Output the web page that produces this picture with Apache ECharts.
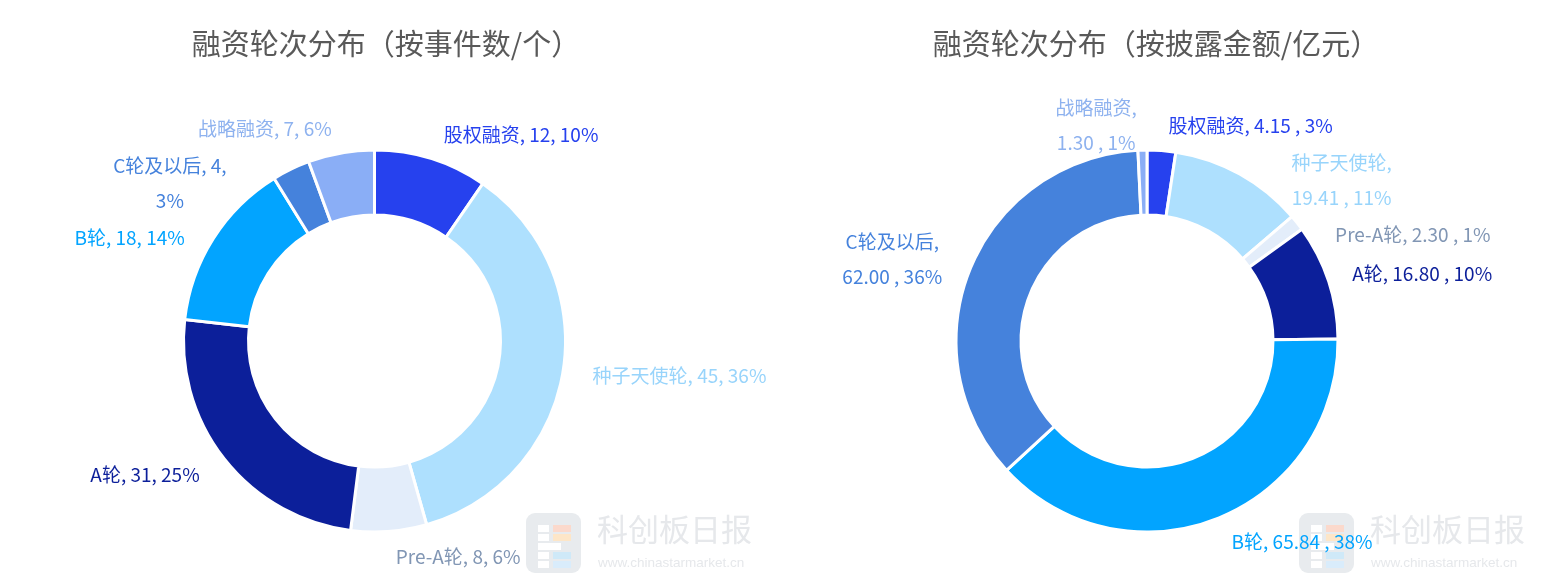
<!DOCTYPE html>
<html lang="zh" style="height: 100%">

<head>
  <meta charset="utf-8">
</head>

<body style="height: 100%; margin: 0; background: #fff">
  <div id="container" style="height: 100%"></div>
  <script type="text/javascript" src="https://fastly.jsdelivr.net/npm/echarts@6.0.0/dist/echarts.min.js"></script>
  <script type="text/javascript">
    // 融资轮次
    const roundNames = ['股权融资', '种子天使轮', 'Pre-A轮', 'A轮', 'B轮', 'C轮及以后', '战略融资'];
    // 按事件数（个）
    const eventCounts = [12, 45, 8, 31, 18, 4, 7];
    // 按披露金额（亿元）
    const disclosedAmounts = [4.15, 19.41, 2.30, 16.80, 65.84, 62.00, 1.30];

    const titles = ['融资轮次分布（按事件数/个）', '融资轮次分布（按披露金额/亿元）'];

    const sliceColors = ['#2641ee', '#aee0fe', '#e3edfa', '#0c1f9a', '#02a4ff', '#4582dc', '#8aaef6'];
    const labelColors = ['#2641ee', '#98d4fb', '#8196b4', '#0c1f9a', '#02a4ff', '#4582dc', '#8eb2ef'];

    var dom = document.getElementById('container');
    var myChart = echarts.init(dom, null, { renderer: 'canvas' });

    const font = "'Noto Sans CJK SC', 'Noto Sans', sans-serif";

    function pieData(values) {
      return roundNames.map((name, i) => ({
        name: name,
        value: values[i],
        itemStyle: { color: sliceColors[i] },
        label: { color: labelColors[i] }
      }));
    }

    // labels that break onto a second line in the original, and after which part
    const wrapLeft = { 'C轮及以后': 2 };
    const wrapRight = { '战略融资': 1, '种子天使轮': 1, 'C轮及以后': 1 };

    function joinParts(parts, breakAt) {
      if (!breakAt) return parts.join(', ');
      // two lines, centred on each other
      return '{c|' + parts.slice(0, breakAt).join(', ') + ',}\n{c|' + parts.slice(breakAt).join(', ') + '}';
    }

    function pieSeries(values, cx, fmt) {
      return {
        type: 'pie',
        center: [cx, 341],
        radius: [126, 191],
        startAngle: 90,
        clockwise: true,
        percentPrecision: 0,
        avoidLabelOverlap: true,
        itemStyle: { borderColor: '#fff', borderWidth: 3 },
        label: {
          show: true,
          fontFamily: font,
          fontSize: 19,
          lineHeight: 35,
          formatter: fmt,
          rich: {
            c: { align: 'center', fontFamily: font, fontSize: 19, lineHeight: 35 }
          }
        },
        labelLine: { show: false, length: 25, length2: 0 },
        emphasis: { scale: false },
        data: pieData(values)
      };
    }

    // watermark: logo + site name
    function watermark(x0) {
      const y0 = 513;
      const bars = [
        [12, 12, 11, 7, '#fff'], [12, 21, 11, 7, '#fff'], [12, 30, 23, 7, '#fff'],
        [12, 39, 11, 7, '#fff'], [12, 48, 11, 7, '#fff'],
        [27, 12, 18, 7, '#fbd9cc'], [27, 21, 18, 7, '#fde6c8'],
        [27, 39, 18, 7, '#cfe9f8'], [27, 48, 18, 7, '#d9ecfb']
      ];
      return [
        {
          type: 'rect',
          shape: { x: x0, y: y0, width: 55, height: 60, r: 9 },
          style: { fill: '#e8ebee' },
          silent: true
        },
        ...bars.map(b => ({
          type: 'rect',
          shape: { x: x0 + b[0], y: y0 + b[1], width: b[2], height: b[3] },
          style: { fill: b[4] },
          silent: true
        })),
        {
          type: 'text',
          x: x0 + 71,
          y: y0 + 1,
          style: { text: '科创板日报', font: "31px 'Noto Sans CJK SC'", fill: '#e6e8eb' },
          silent: true
        },
        {
          type: 'text',
          x: x0 + 72,
          y: y0 + 43,
          style: { text: 'www.chinastarmarket.cn', font: "13.5px 'Liberation Sans', Arial", fill: '#e6e8eb' },
          silent: true
        }
      ];
    }

    const titleStyle = { fontFamily: font, fontSize: 29, fontWeight: 'normal', color: '#595959' };

    var option = {
      backgroundColor: '#fff',
      title: [
        { text: titles[0], left: 381, top: 24, textAlign: 'center', textStyle: titleStyle },
        { text: titles[1], left: 1151, top: 24, textAlign: 'center', textStyle: titleStyle }
      ],
      graphic: [...watermark(526), ...watermark(1299)],
      series: [
        pieSeries(eventCounts, 374.5,
          p => joinParts([p.name, String(p.value), p.percent + '%'], wrapLeft[p.name])),
        pieSeries(disclosedAmounts, 1147,
          p => joinParts([p.name, p.value.toFixed(2) + ' , ' + p.percent + '%'], wrapRight[p.name]))
      ]
    };

    myChart.setOption(option);

    window.addEventListener('resize', myChart.resize);
  </script>
</body>

</html>
